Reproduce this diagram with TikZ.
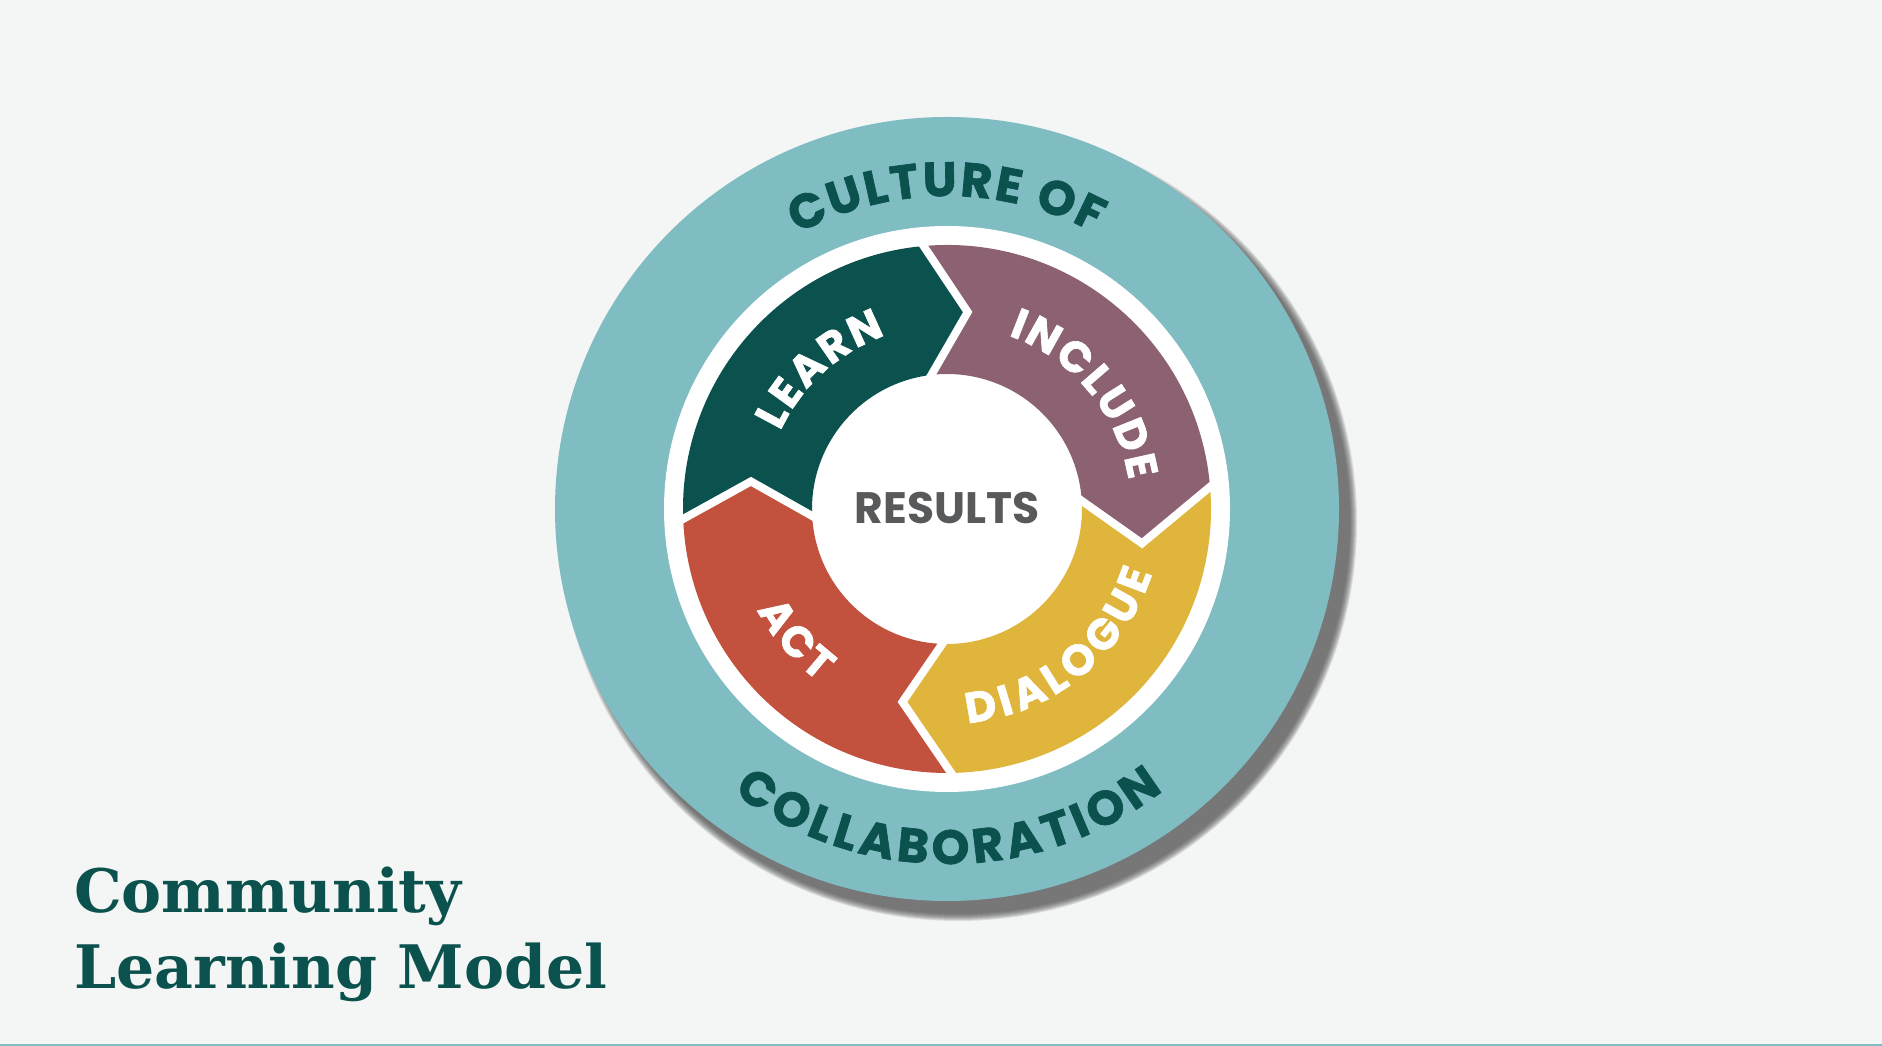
\documentclass[tikz,border=0pt]{standalone}
\usepackage{fontspec}
\usetikzlibrary{decorations.text}

\newfontfamily\ringfont{Poppins}[FakeBold=1.5]
\newfontfamily\resultsfont{Poppins}
\newfontfamily\titlefont{DejaVu Serif}

\definecolor{bgcol}{HTML}{F4F6F5}
\definecolor{ringteal}{HTML}{7FBDC2}
\definecolor{darkteal}{HTML}{0B524F}
\definecolor{includecol}{HTML}{8C6272}
\definecolor{dialoguecol}{HTML}{DFB53C}
\definecolor{actcol}{HTML}{C2523E}
\definecolor{resultsgrey}{HTML}{58595B}
\definecolor{shadowgrey}{HTML}{4A4A4A}

\newcommand{\ringfmt}{\ringfont\bfseries\fontsize{48}{48}\selectfont}
\newcommand{\segfmt}{\ringfont\bfseries\fontsize{43}{43}\selectfont}

\tikzset{
  gapline/.style={white, line width=8pt, line join=miter},
  ringlabel/.style={decorate, decoration={text along path, text={|\ringfmt|#1},
      text align=fit to path, text color=darkteal}},
  seglabel/.style={decorate, decoration={text along path, text={|\segfmt|#1},
      text align=fit to path, text color=white}},
  titletext/.style={font=\titlefont\bfseries\fontsize{60}{60}\selectfont,
      text=darkteal, inner sep=0pt, anchor=base west},
}

\begin{document}
\begin{tikzpicture}[x=1pt, y=1pt]
    % Page background and thin line along the bottom edge
    \useasboundingbox (0,0) rectangle (1882,1046);
    \fill[bgcol] (0,0) rectangle (1882,1046);
    \fill[ringteal] (0,0) rectangle (1882,2);

    % Title in the lower left corner
    \node[titletext] (title1) at (74,133) {Community};
    \node[titletext] (title2) at (74,57) {Learning Model};

    \begin{scope}[shift={(947,537)}]
      % Soft shadow to the lower right of the badge
      \foreach \k in {0,...,7} {
        \fill[shadowgrey, opacity=0.15] (11,-13) circle[radius=399-\k];
      }
      % Outer teal ring and white disk
      \fill[ringteal] (0,0) circle[radius=392];
      \fill[white] (0,0) circle[radius=283];

      % The four chevron segments, clockwise from LEARN
      \fill[darkteal] (182:264) arc[start angle=182, end angle=95, radius=264]
        -- (84:198) -- (98:135) arc[start angle=98, end angle=184, radius=135]
        -- (172:198) -- cycle;
      \fill[includecol] (95:264) arc[start angle=95, end angle=5, radius=264]
        -- (-10:198) -- (5:135) arc[start angle=5, end angle=98, radius=135]
        -- (84:198) -- cycle;
      \fill[dialoguecol] (5:264) arc[start angle=5, end angle=-89, radius=264]
        -- (-103:198) -- (-91:135) arc[start angle=-91, end angle=5, radius=135]
        -- (-10:198) -- cycle;
      \fill[actcol] (-89:264) arc[start angle=-89, end angle=-178, radius=264]
        -- (-188:198) -- (-176:135) arc[start angle=-176, end angle=-91, radius=135]
        -- (-103:198) -- cycle;

      % White gaps between the segments
      \draw[gapline] (96:272) -- (84:198) -- (99:128);
      \draw[gapline] (6:272) -- (-10:198) -- (6:128);
      \draw[gapline] (-88:272) -- (-103:198) -- (-90:128);
      \draw[gapline] (183:272) -- (172:198) -- (185:128);

      % Centre label
      \node[font=\resultsfont\bfseries\fontsize{44}{44}\selectfont, text=resultsgrey,
        inner sep=0pt] (results) at (0,1) {RESULTS};

      % Segment labels along their arcs
      \path[seglabel=LEARN] (155:184) arc[start angle=155, end angle=109.5, radius=184];
      \path[seglabel=INCLUDE] (70.5:184) arc[start angle=70.5, end angle=9, radius=184];
      \path[seglabel=DIALOGUE] (-84.5:215) arc[start angle=-84.5, end angle=-17.5, radius=215];
      \path[seglabel=ACT] (208:215) arc[start angle=208, end angle=233.5, radius=215];

      % Text round the outer ring
      \path[ringlabel=CULTURE OF] (118.5:313) arc[start angle=118.5, end angle=61.8, radius=313];
      \path[ringlabel=COLLABORATION] (233:355) arc[start angle=233, end angle=307.5, radius=355];
    \end{scope}
\end{tikzpicture}
\end{document}
